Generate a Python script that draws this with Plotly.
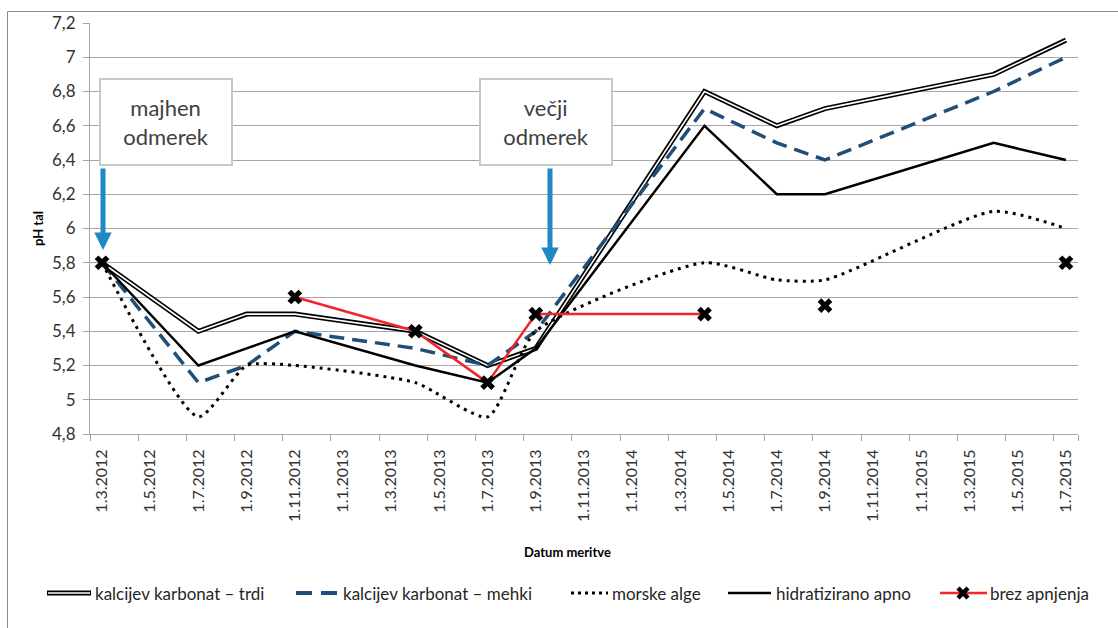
import plotly.graph_objects as go

# ---------------- data ----------------
dates = ["1.3.2012", "1.7.2012", "1.9.2012", "1.11.2012", "1.4.2013", "1.7.2013",
         "1.9.2013", "1.4.2014", "1.7.2014", "1.9.2014", "1.4.2015", "1.7.2015"]
trdi = [5.8, 5.4, 5.5, 5.5, 5.4, 5.2, 5.3, 6.8, 6.6, 6.7, 6.9, 7.1]
mehki = [5.8, 5.1, 5.2, 5.4, 5.3, 5.2, 5.4, 6.7, 6.5, 6.4, 6.8, 7.0]
alge = [5.8, 4.9, 5.2, 5.2, 5.1, 4.9, 5.4, 5.8, 5.7, 5.7, 6.1, 6.0]
apno = [5.8, 5.2, 5.3, 5.4, 5.2, 5.1, 5.3, 6.6, 6.2, 6.2, 6.5, 6.4]
brez = [5.8, None, None, 5.6, 5.4, 5.1, 5.5, 5.5, None, 5.55, None, 5.8]

series_names = ["kalcijev karbonat – trdi", "kalcijev karbonat – mehki",
                "morske alge", "hidratizirano apno", "brez apnjenja"]

tick_dates = ["1.3.2012", "1.5.2012", "1.7.2012", "1.9.2012", "1.11.2012",
              "1.1.2013", "1.3.2013", "1.5.2013", "1.7.2013", "1.9.2013",
              "1.11.2013", "1.1.2014", "1.3.2014", "1.5.2014", "1.7.2014",
              "1.9.2014", "1.11.2014", "1.1.2015", "1.3.2015", "1.5.2015",
              "1.7.2015"]
y_ticks = [4.8, 5.0, 5.2, 5.4, 5.6, 5.8, 6.0, 6.2, 6.4, 6.6, 6.8, 7.0, 7.2]

y_title = "pH tal"
x_title = "Datum meritve"
note1 = "majhen<br>odmerek"
note2 = "večji<br>odmerek"


def month_index(d):
    day, m, y = (int(v) for v in d.split("."))
    return (y - 2012) * 12 + (m - 3)


def fmt(v):
    s = ("%.1f" % v).rstrip("0").rstrip(".")
    return s.replace(".", ",")


x = [month_index(d) for d in dates]
tick_x = [month_index(d) for d in tick_dates]

# ---------------- layout helpers (pixel -> paper) ----------------
W, H = 1118, 628
L, R, T, B = 90, 40, 23, 194
PW, PH = W - L - R, H - T - B


def px(p):
    return (p - L) / PW


def py(p):
    return (H - B - p) / PH


FONT = "Lato, Carlito, Calibri, sans-serif"
NAVY = "#1f4e79"
RED = "#f0262a"
BLUE = "#2088c2"

fig = go.Figure()

# kalcijev karbonat - trdi (double line)
fig.add_trace(go.Scatter(x=x, y=trdi, mode="lines", name=series_names[0],
                         line=dict(color="black", width=5), showlegend=False))
fig.add_trace(go.Scatter(x=x, y=trdi, mode="lines", name=series_names[0],
                         line=dict(color="white", width=1.6), showlegend=False,
                         hoverinfo="skip"))
# mehki
fig.add_trace(go.Scatter(x=x, y=mehki, mode="lines", name=series_names[1],
                         line=dict(color=NAVY, width=3.5, dash="15px,8px"),
                         showlegend=False))
# morske alge
fig.add_trace(go.Scatter(x=x, y=alge, mode="lines", name=series_names[2],
                         line=dict(color="black", width=3, dash="3px,5px",
                                   shape="spline", smoothing=0.6),
                         showlegend=False))
# hidratizirano apno
fig.add_trace(go.Scatter(x=x, y=apno, mode="lines", name=series_names[3],
                         line=dict(color="black", width=2.5), showlegend=False))
# brez apnjenja
fig.add_trace(go.Scatter(x=x, y=brez, mode="lines+markers", name=series_names[4],
                         line=dict(color=RED, width=2.5), connectgaps=False,
                         marker=dict(symbol="x", size=13, color="black"),
                         showlegend=False))

GRID = "#a6a6a6"
fig.update_layout(
    width=W, height=H,
    margin=dict(l=L, r=R, t=T, b=B, pad=0),
    paper_bgcolor="white", plot_bgcolor="white",
    font=dict(family=FONT, color="#333333", size=16),
    separators=",.",
    showlegend=False,
    xaxis=dict(
        type="linear", range=[-0.5, 40.5],
        tickmode="array", tickvals=tick_x, ticktext=tick_dates,
        tickangle=-90, ticks="", showgrid=False, zeroline=False,
        showline=True, linecolor=GRID, linewidth=1,
        tickfont=dict(size=16, color="#333333"),
        ticklabelstandoff=8,
        minor=dict(tickvals=[v - 0.5 for v in tick_x] + [tick_x[-1] + 0.5],
                   ticks="outside", ticklen=6, tickcolor=GRID, tickwidth=1,
                   showgrid=False),
    ),
    yaxis=dict(
        range=[4.8, 7.2], tickmode="array", tickvals=y_ticks,
        ticktext=[fmt(v) for v in y_ticks],
        showgrid=True, gridcolor=GRID, gridwidth=1, zeroline=False,
        showline=True, linecolor=GRID, linewidth=1,
        ticks="outside", ticklen=6, tickcolor=GRID,
        tickfont=dict(size=17, color="#333333"),
        ticklabelstandoff=4,
    ),
)

shapes = []
ann = []

# chart border
shapes.append(dict(type="rect", xref="paper", yref="paper",
                   x0=px(7.5), x1=px(1135), y0=py(660), y1=py(11.5),
                   line=dict(color="#8c8c8c", width=1), fillcolor="rgba(0,0,0,0)",
                   layer="below"))

# axis titles
ann.append(dict(xref="paper", yref="paper", x=px(567), y=py(552), text=x_title,
                showarrow=False, font=dict(size=13, color="black", family=FONT,
                                           weight="bold"),
                xanchor="center", yanchor="middle"))
ann.append(dict(xref="paper", yref="paper", x=px(38), y=py(229), text=y_title,
                showarrow=False, textangle=-90,
                font=dict(size=13, color="black", family=FONT, weight="bold"),
                xanchor="center", yanchor="middle"))

# annotation boxes
for cx, txt in [(165.5, note1), (546, note2)]:
    ann.append(dict(xref="paper", yref="paper", x=px(cx), y=py(121.5), text=txt,
                    showarrow=False, xanchor="center", yanchor="middle",
                    width=130, height=84, bgcolor="white", bordercolor="#c8c8c8",
                    borderwidth=2, borderpad=0, align="center",
                    font=dict(size=22, color="#404040", family=FONT)))

# arrows
for tipx, tipy, tail in [(103, 250, 167), (550, 265, 167)]:
    ann.append(dict(xref="paper", yref="paper", x=px(tipx), y=py(tipy), text="",
                    showarrow=True, ax=0, ay=tail - tipy, axref="pixel", ayref="pixel",
                    arrowhead=2, arrowsize=0.7, arrowwidth=5, arrowcolor=BLUE,
                    standoff=0, startstandoff=0))

# manual legend
LY = 593
ly = py(LY)


def hline(x0, x1, color, width, dash=None):
    d = dict(type="line", xref="paper", yref="paper", x0=px(x0), x1=px(x1),
             y0=ly, y1=ly, line=dict(color=color, width=width))
    if dash:
        d["line"]["dash"] = dash
    shapes.append(d)


hline(47, 91, "black", 5)
hline(48, 90, "white", 1.6)
hline(296, 338, NAVY, 4, "16px,9px")
hline(571, 608, "black", 3, "3px,4px")
hline(728, 771, "black", 2.5)
hline(940, 987, RED, 2.5)
for (a, b_, c, d) in [(958, LY - 5, 968, LY + 5), (958, LY + 5, 968, LY - 5)]:
    shapes.append(dict(type="line", xref="paper", yref="paper", x0=px(a), x1=px(c),
                       y0=py(b_), y1=py(d), line=dict(color="black", width=4.5)))

for tx, name in zip([93, 341, 610, 774, 988], series_names):
    ann.append(dict(xref="paper", yref="paper", x=px(tx), y=ly, text=name,
                    showarrow=False, xanchor="left", yanchor="middle",
                    font=dict(size=17, color="#262626", family=FONT)))

fig.update_layout(shapes=shapes, annotations=ann)

fig.write_html("out.html", config={"displayModeBar": False},
               post_script="document.body.style.margin='0';")
